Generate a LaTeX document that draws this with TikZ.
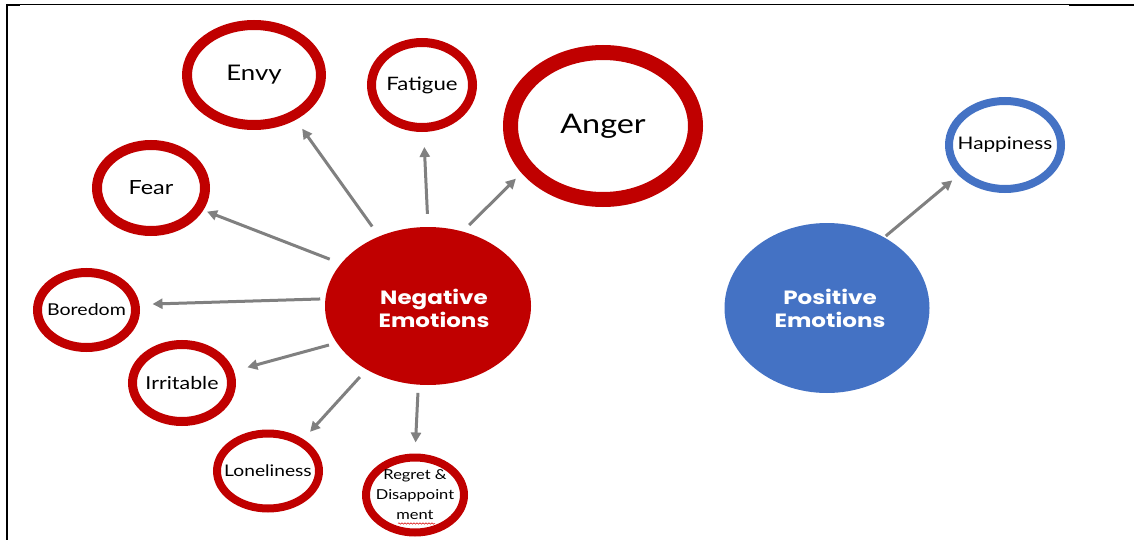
\documentclass[tikz,border=0pt]{standalone}
\usepackage{fontspec}
\setmainfont{Lato}[FakeStretch=1.2]
\newfontfamily\popfont{Poppins}[FakeStretch=1.2]
\usetikzlibrary{shapes.geometric,arrows.meta,decorations.pathmorphing}
\definecolor{negred}{HTML}{C00000}
\definecolor{posblue}{HTML}{4472C4}
\definecolor{arrgray}{HTML}{808080}
\tikzset{
  ring/.style={ellipse, draw=negred, fill=white, inner sep=0pt},
  bluering/.style={ellipse, draw=posblue, fill=white, inner sep=0pt},
  lab/.style={text=black, inner sep=0pt, align=center},
  hub/.style={ellipse, inner sep=0pt},
  hublab/.style={text=white, inner sep=0pt, align=center,
    font=\popfont\bfseries\fontsize{19.2}{23}\selectfont},
  arr/.style={draw=arrgray, line width=3pt, -{Triangle[length=10pt,width=10pt]}},
  frame/.style={black}
}
\begin{document}
\begin{tikzpicture}[x=1pt,y=-1pt]
\useasboundingbox (0,0) rectangle (1134,540);
% frame lines
\draw[frame, line width=1.3pt] (7,4.4) -- (1069,4.4);
\draw[frame, line width=2.2pt] (1069,5.4) -- (1134,5.4);
\draw[frame, line width=2.4pt] (7,4) -- (7,540);
\draw[frame, line width=2.4pt] (6,5.2) -- (20,5.2);

% hubs
\node[hub, fill=negred, minimum width=206pt, minimum height=158pt,
  label={[hublab, xshift=6pt, yshift=-2pt]center:Negative\\Emotions}] (neg) at (428,306) {};
\node[hub, fill=posblue, minimum width=205pt, minimum height=170pt,
  label={[hublab, xshift=3pt]center:Positive\\Emotions}] (pos) at (827,308) {};

% satellites
\node[ring, line width=10pt, minimum width=134pt, minimum height=100pt,
  label={[lab, font=\fontsize{21.5}{26}\selectfont]center:Envy}] (envy) at (254,75) {};
\node[ring, line width=9pt, minimum width=101pt, minimum height=85pt,
  label={[lab, font=\fontsize{18.5}{22}\selectfont]center:Fatigue}] (fatigue) at (422,85) {};
\node[ring, line width=15pt, minimum width=185pt, minimum height=147pt,
  label={[lab, font=\fontsize{27}{32}\selectfont]center:Anger}] (anger) at (603,126) {};
\node[ring, line width=10pt, minimum width=108pt, minimum height=86pt,
  label={[lab, font=\fontsize{19.5}{22}\selectfont]center:Fear}] (fear) at (151,188) {};
\node[ring, line width=9pt, minimum width=98pt, minimum height=75pt,
  label={[lab, font=\fontsize{16.3}{20}\selectfont]center:Boredom}] (boredom) at (86.5,310) {};
\node[ring, line width=9pt, minimum width=99pt, minimum height=77pt,
  label={[lab, font=\fontsize{17.8}{20}\selectfont]center:Irritable}] (irritable) at (182,383) {};
\node[ring, line width=8pt, minimum width=102pt, minimum height=75pt,
  label={[lab, font=\fontsize{16}{20}\selectfont]center:Loneliness}] (lonely) at (268,471) {};
\node[ring, line width=8pt, minimum width=98pt, minimum height=75pt,
  label={[lab, font=\fontsize{13.7}{20}\selectfont]center:Regret \&\\Disappoint\\ment}] (regret) at (415,495) {};
\node[bluering, line width=8pt, minimum width=112pt, minimum height=88pt,
  label={[lab, font=\fontsize{17.3}{20}\selectfont]center:Happiness}] (happy) at (1005,145) {};

% spell-check squiggle under "ment"
\draw[red!85!black, line width=0.5pt, decorate, decoration={snake, amplitude=0.7pt, segment length=3pt}] (398,523.5) -- (435,523.5);

% arrows
\draw[arr, shorten <=12pt, shorten >=11pt] (neg.125.3) -- (envy.-47.2);
\draw[arr, shorten <=13pt, shorten >=15pt] (neg.90.6) -- (fatigue.-88);
\draw[arr, shorten <=9pt, shorten >=8pt] (neg.65.4) -- (anger.210.1);
\draw[arr, shorten <=12pt, shorten >=4pt] (neg.154.4) -- (fear.-23.2);
\draw[arr, shorten <=5pt, shorten >=13pt] (neg.176.8) -- (boredom.6);
\draw[arr, shorten <=8pt, shorten >=14pt] (neg.202.2) -- (irritable.13.8);
\draw[arr, shorten <=10pt, shorten >=10pt] (neg.226.7) -- (lonely.42.9);
\draw[arr, shorten <=8pt, shorten >=11pt] (neg.263.4) -- (regret.90);
\draw[arr, shorten <=2pt, shorten >=8pt] (pos.51.5) -- (happy.213.4);
\end{tikzpicture}
\end{document}
